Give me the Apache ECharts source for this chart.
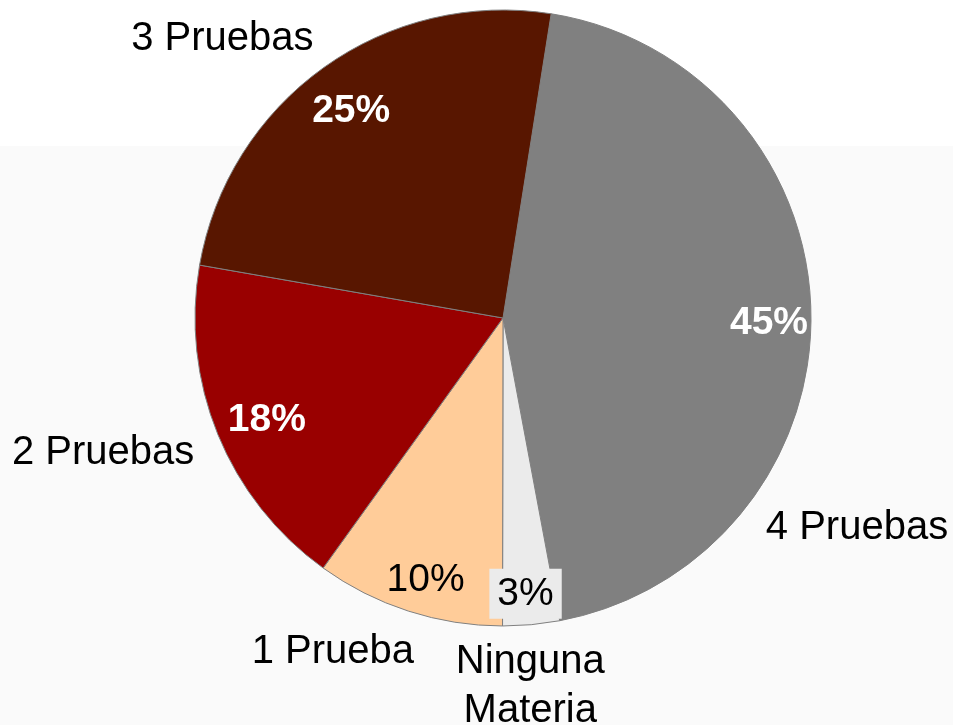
<!DOCTYPE html>
<html>
<head>
<meta charset="utf-8">
<script src="https://cdn.jsdelivr.net/npm/echarts@6/dist/echarts.min.js"></script>
<style>
  html, body { margin: 0; padding: 0; background: #ffffff; }
  #chart { width: 953px; height: 725px; }
</style>
</head>
<body>
<div id="chart"></div>
<script>
// categorias y porcentajes, en el orden del reloj desde arriba
const categories = ['4 Pruebas', 'Ninguna\nMateria', '1 Prueba', '2 Pruebas', '3 Pruebas']
const percents = [45, 3, 10, 18, 25]
const colors = ['#808080', '#ebebeb', '#ffcc99', '#990000', '#581600']
// desplazamiento de las etiquetas (estilo, no datos)
const nameNudge = [[-53, 216], [-10, -37], [-45, -53], [-23, -19], [-44, 52]]
const pctNudge = [[-2, 9], [-2, 9], [5, 7], [12, 1], [4, 11]]
// estilo del porcentaje por sector
const pctStyle = ['w', 'box', 'k', 'w', 'w']

const FONT = '"Liberation Sans", Arial, sans-serif'
const center = [503, 318]
const R = 308
const startAngle = 81

const chart = echarts.init(document.getElementById('chart'))

chart.setOption({
  backgroundColor: {
    type: 'linear', x: 0, y: 0, x2: 0, y2: 1,
    colorStops: [
      { offset: 0, color: '#ffffff' },
      { offset: 0.201, color: '#ffffff' },
      { offset: 0.201, color: '#fafafa' },
      { offset: 1, color: '#fafafa' }
    ]
  },
  animation: false,
  series: [
    {
      // la torta
      type: 'pie',
      center: center,
      radius: R,
      startAngle: startAngle,
      clockwise: true,
      silent: true,
      label: { show: false },
      labelLine: { show: false },
      itemStyle: { borderColor: '#808080', borderWidth: 1 },
      data: categories.map((c, i) => ({
        name: c, value: percents[i], itemStyle: { color: colors[i] }
      }))
    },
    {
      // porcentajes
      type: 'pie',
      center: center,
      radius: [222, R],
      startAngle: startAngle,
      clockwise: true,
      silent: true,
      itemStyle: { color: 'rgba(0,0,0,0)', borderWidth: 0 },
      labelLine: { show: false },
      label: {
        show: true,
        position: 'inside',
        fontFamily: FONT,
        formatter: p => '{' + pctStyle[p.dataIndex] + '|' + p.value + '%}',
        rich: {
          w: { color: '#ffffff', fontWeight: 'bold', fontSize: 39, fontFamily: FONT },
          k: { color: '#000000', fontSize: 39, fontFamily: FONT },
          box: {
            color: '#000000', fontSize: 39, fontFamily: FONT,
            backgroundColor: '#ebebeb', padding: [6, 8, 5, 8]
          }
        }
      },
      labelLayout: p => ({ dx: pctNudge[p.dataIndex][0], dy: pctNudge[p.dataIndex][1] }),
      data: categories.map((c, i) => ({ name: c, value: percents[i] }))
    },
    {
      // nombres
      type: 'pie',
      center: center,
      radius: [R, 500],
      startAngle: startAngle,
      clockwise: true,
      silent: true,
      itemStyle: { color: 'rgba(0,0,0,0)', borderWidth: 0 },
      labelLine: { show: false },
      label: {
        show: true,
        position: 'inside',
        formatter: '{b}',
        color: '#000000',
        fontSize: 40,
        lineHeight: 49,
        fontFamily: FONT
      },
      labelLayout: p => ({ dx: nameNudge[p.dataIndex][0], dy: nameNudge[p.dataIndex][1] }),
      data: categories.map((c, i) => ({ name: c, value: percents[i] }))
    }
  ]
})
</script>
</body>
</html>
